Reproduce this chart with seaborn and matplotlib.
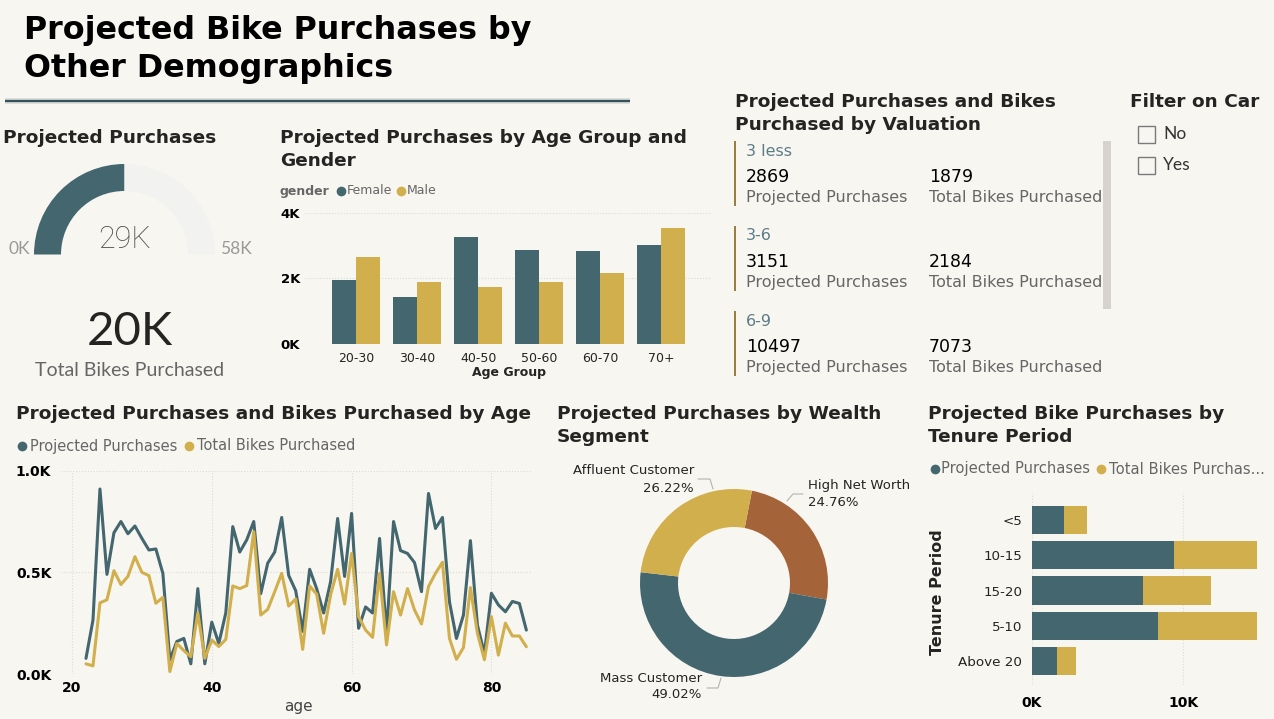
import matplotlib
matplotlib.use("Agg")
import matplotlib.pyplot as plt
from matplotlib.patches import Rectangle
import numpy as np
import pandas as pd
import seaborn as sns

# data
ages = list(range(22, 86))
projected_by_age = [.077, .265, .91, .49, .695, .75, .69, .728, .667, .61, .615, .495, .07, .16, .175, .05,
                    .42, .05, .255, .15, .30, .725, .60, .66, .75, .395, .545, .60, .77, .485, .41, .21,
                    .515, .42, .30, .455, .765, .48, .79, .225, .33, .30, .667, .20, .75, .607, .593, .548,
                    .405, .888, .716, .77, .355, .175, .29, .656, .24, .10, .397, .34, .306, .357, .347, .216]
bikes_by_age = [.05, .04, .35, .365, .508, .44, .48, .577, .50, .484, .348, .377, .012, .15, .115, .085,
                .30, .077, .167, .135, .17, .433, .42, .435, .70, .29, .318, .405, .495, .334, .369, .121,
                .433, .393, .20, .39, .515, .344, .593, .282, .216, .18, .495, .143, .405, .29, .42, .315,
                .246, .43, .495, .55, .175, .072, .13, .425, .20, .07, .282, .093, .25, .187, .187, .134]

age_groups = ['20-30', '30-40', '40-50', '50-60', '60-70', '70+']
female = [1.95, 1.43, 3.26, 2.86, 2.83, 3.01]
male = [2.65, 1.88, 1.74, 1.88, 2.16, 3.53]

tenure = ['<5', '10-15', '15-20', '5-10', 'Above 20']
tenure_projected = [2.11, 9.38, 7.33, 8.33, 1.65]
tenure_bikes = [1.52, 5.55, 4.50, 6.54, 1.26]

segments = ['High Net Worth', 'Mass Customer', 'Affluent Customer']
segment_share = [24.76, 49.02, 26.22]

gauge_value = 29
gauge_max = 58

valuation = ['3 less', '3-6', '6-9']
valuation_projected = [2869, 3151, 10497]
valuation_bikes = [1879, 2184, 7073]

BG = '#F8F6F1'
TEAL = '#43666F'
GOLD = '#D1AF4C'
RUST = '#A5633A'
INK = '#252423'
GREY = '#666666'
W, H = 1274, 719

sns.set_theme(style='white')
plt.rcParams['font.family'] = ['DejaVu Sans']
plt.rcParams['axes.facecolor'] = 'none'

fig = plt.figure(figsize=(W / 100, H / 100), dpi=100, facecolor=BG)


def px_axes(left, top, right, bottom):
    return fig.add_axes([left / W, 1 - bottom / H, (right - left) / W, (bottom - top) / H])


def style_axis(ax):
    sns.despine(ax=ax, left=True, bottom=True)
    ax.tick_params(length=0)
    ax.set_axisbelow(True)


# page layer in pixel coordinates
page = fig.add_axes([0, 0, 1, 1], zorder=5)
page.set_xlim(0, W)
page.set_ylim(H, 0)
page.axis('off')


def label(x, y, s, size=10.5, color=GREY, weight='normal', ha='left', family='DejaVu Sans', **kw):
    page.text(x, y, s, fontsize=size, color=color, fontweight=weight, ha=ha, va='center', family=family, **kw)


def heading(x, y, s):
    label(x, y + 1, s, size=13.3, color=INK, weight='bold')


def dot(x, y, color):
    page.plot([x], [y], 'o', ms=7, color=color, mew=0)


# header
label(24, 30, 'Projected Bike Purchases by', size=22.9, color='black', weight='bold')
label(24, 69, 'Other Demographics', size=22.9, color='black', weight='bold')
page.plot([5, 630], [100.5, 100.5], color='#D5D8D6', lw=4, solid_capstyle='butt')
page.plot([5, 630], [100.5, 100.5], color='#35525C', lw=1.6, solid_capstyle='butt')

# gauge
heading(3, 137, 'Projected Purchases')
gauge = px_axes(34, 164, 215, 345)
gauge.pie([gauge_value, gauge_max - gauge_value, gauge_max], colors=[TEAL, '#F2F2F0', 'none'], startangle=180,
          counterclock=False, radius=1, wedgeprops={'width': 27 / 90.5, 'linewidth': 0})
gauge.set_xlim(-1, 1)
gauge.set_ylim(-1, 1)
label(124.5, 239, f'{gauge_value}K', size=22, color='#4A4A4A', ha='center', family='Roboto', weight='light')
label(19, 249, '0K', size=12.5, color='#999999', ha='center', family='Lato')
label(236, 249, f'{gauge_max}K', size=12.5, color='#999999', ha='center', family='Lato')
label(130, 332, '20K', size=34, color=INK, ha='center', family='Lato')
label(130, 371, 'Total Bikes Purchased', size=14, ha='center', family='Lato')

# age group bars
heading(280, 137, 'Projected Purchases by Age Group and')
heading(280, 160, 'Gender')
label(280, 191, 'gender', size=9, weight='bold')
dot(341, 191, TEAL)
label(347, 191, 'Female', size=9)
dot(401, 191, GOLD)
label(407, 191, 'Male', size=9)

group_df = pd.DataFrame({'group': age_groups * 2, 'value': female + male,
                         'gender': ['Female'] * 6 + ['Male'] * 6})
ax = px_axes(305, 212.7, 712, 344)
sns.barplot(data=group_df, x='group', y='value', hue='gender', palette=[TEAL, GOLD], width=0.79,
            saturation=1, legend=False, ax=ax, linewidth=0)
ax.set_xlim(-0.835, 5.83)
ax.set_ylim(0, 4)
ax.set_yticks([0, 2, 4], ['0K', '2K', '4K'], fontsize=9.5, fontweight='bold', color='black', ha='left')
ax.tick_params(axis='y', pad=17.5)
ax.tick_params(axis='x', labelsize=9, labelcolor=INK, pad=6)
ax.grid(axis='y', ls=':', color='#DDDBD6', lw=0.8)
ax.set_ylabel('')
ax.set_xlabel('Age Group', fontsize=9, fontweight='bold', color=INK)
ax.xaxis.set_label_coords(509, 372.5, transform=page.transData)
ax.xaxis.label.set_va('center')
style_axis(ax)

# valuation cards
heading(735, 101, 'Projected Purchases and Bikes')
heading(735, 124, 'Purchased by Valuation')
for i, name in enumerate(valuation):
    off = 85 * i
    page.plot([735, 735], [141 + off, 205.5 + off], color='#9A7A3C', lw=1.4, solid_capstyle='butt')
    label(746, 151 + off, name, size=11.5, color='#5C7C88')
    label(746, 177 + off, str(valuation_projected[i]), size=12.5, color='black')
    label(929, 177 + off, str(valuation_bikes[i]), size=12.5, color='black')
    label(746, 197.5 + off, 'Projected Purchases', size=11.5)
    label(929, 197.5 + off, 'Total Bikes Purchased', size=11.5)
page.add_patch(Rectangle((1103, 141), 8, 168, color='#D6D2CC', lw=0))

# slicer
heading(1130, 101, 'Filter on Car')
for y, name in [(134, 'No'), (165, 'Yes')]:
    page.add_patch(Rectangle((1138, y - 8.5), 17, 17, fc='none', ec='#7A7A7A', lw=1))
    label(1163, y, name, size=12.5, color='#333333', family='Lato')

# age line chart
heading(16, 413, 'Projected Purchases and Bikes Purchased by Age')
dot(22, 446, TEAL)
label(30, 446, 'Projected Purchases', size=10.5)
dot(189, 446, GOLD)
label(197, 446, 'Total Bikes Purchased', size=10.5)

ax = px_axes(61, 470.7, 532, 674)
sns.lineplot(x=ages, y=projected_by_age, color=TEAL, lw=2.2, ax=ax)
sns.lineplot(x=ages, y=bikes_by_age, color=GOLD, lw=2.2, ax=ax)
ax.set_xlim(20 - 11 / 6.99, 20 + 460 / 6.99)
ax.set_ylim(0, 1)
ax.set_yticks([0, 0.5, 1], ['0.0K', '0.5K', '1.0K'], fontsize=10, fontweight='bold', color='black')
ax.set_xticks([20, 40, 60, 80], ['20', '40', '60', '80'], fontsize=10, fontweight='bold', color='black')
ax.tick_params(axis='y', pad=7)
ax.tick_params(axis='x', pad=5)
ax.grid(ls=':', color='#DDDBD6', lw=0.8)
ax.set_xlabel('age', fontsize=11, color='#444444')
ax.xaxis.set_label_coords(298, 706, transform=page.transData)
ax.xaxis.label.set_va('center')
style_axis(ax)

# wealth donut
heading(557, 413, 'Projected Purchases by Wealth')
heading(557, 436, 'Segment')
ax = px_axes(640, 489, 828, 677)
ax.pie(segment_share, colors=[RUST, TEAL, GOLD], startangle=79, counterclock=False, radius=1,
       wedgeprops={'width': 38 / 94, 'linewidth': 0})
ax.set_xlim(-1, 1)
ax.set_ylim(-1, 1)
label(808, 486, segments[0], size=9.5, color=INK)
label(808, 502, f'{segment_share[0]:.2f}%', size=9.5, color=INK)
label(702, 679, segments[1], size=9.5, color=INK, ha='right')
label(702, 695, f'{segment_share[1]:.2f}%', size=9.5, color=INK, ha='right')
label(694, 471, segments[2], size=9.5, color=INK, ha='right')
label(694, 488, f'{segment_share[2]:.2f}%', size=9.5, color=INK, ha='right')
for xs, ys in [([803, 793, 787], [494, 494, 501]), ([698, 710, 713], [479, 479, 489]), ([707, 718, 721], [688, 688, 678])]:
    page.plot(xs, ys, color='#B5B3AE', lw=0.8)

# tenure stacked bars, totals first and the projected part on top
heading(928, 413, 'Projected Bike Purchases by')
heading(928, 436, 'Tenure Period')
dot(934.5, 469, TEAL)
label(941, 469, 'Projected Purchases', size=10.6)
dot(1101, 469, GOLD)
label(1109, 469, 'Total Bikes Purchas...', size=10.6)

ax = px_axes(1032, 493, 1262, 685)
stack_total = np.array(tenure_projected) + np.array(tenure_bikes)
sns.barplot(x=stack_total, y=tenure, color=GOLD, saturation=1, width=0.8, ax=ax, linewidth=0)
sns.barplot(x=tenure_projected, y=tenure, color=TEAL, saturation=1, width=0.8, ax=ax, linewidth=0)
ax.set_xlim(0, 230 / 15.1)
ax.set_ylim(4 + 24 / 35.2, -27 / 35.2)
ax.set_xticks([0, 10], ['0K', '10K'], fontsize=10, fontweight='bold', color='black')
ax.tick_params(axis='x', pad=8)
ax.tick_params(axis='y', labelsize=9.7, labelcolor=INK, pad=7)
ax.grid(axis='x', ls=':', color='#DDDBD6', lw=0.8)
ax.set_xlabel('')
ax.set_ylabel('Tenure Period', fontsize=11.5, fontweight='bold', color=INK)
ax.yaxis.set_label_coords(945, 591.7, transform=page.transData)
style_axis(ax)

fig.savefig('out.png', dpi=100, facecolor=BG)
